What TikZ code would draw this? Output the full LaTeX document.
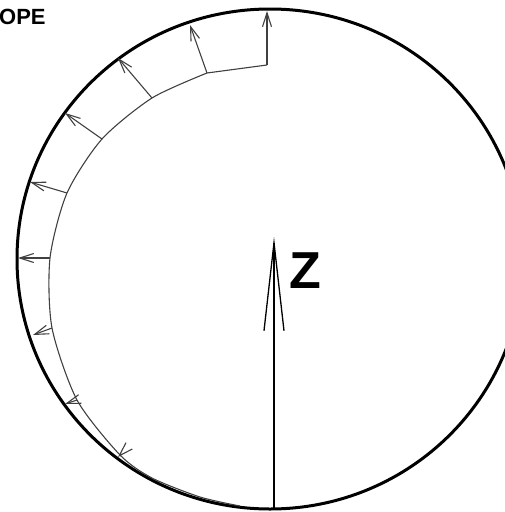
\documentclass[tikz,border=0pt]{standalone}
\usepackage{fontspec}
\setmainfont{Liberation Sans}
\usetikzlibrary{arrows.meta}
\begin{document}
\begin{tikzpicture}[x=1pt,y=-1pt,
  rim/.style={line width=3pt},
  prof/.style={line width=1.1pt, black!75, line join=round},
  vec/.style={line width=1.1pt, black!75, -{Straight Barb[length=14pt,width=9pt]}},
  zvec/.style={line width=1.3pt, black, -{Straight Barb[length=88pt,width=20pt,line width=1.3pt]}},
  lbl/.style={inner sep=0pt, font=\bfseries}]
\useasboundingbox (0,0) rectangle (504,512);
% outer rim
\draw[rim] (270,259) ellipse [x radius=253, y radius=250];
% profile base points
\coordinate (b1) at (267,65);
\coordinate (b2) at (207,73);
\coordinate (b3) at (152,98);
\coordinate (b4) at (102,139);
\coordinate (b5) at (67,193);
\coordinate (b6) at (50,258);
\coordinate (b7) at (52,328);
\coordinate (b8) at (77,400);
\coordinate (b9) at (120,455);
\coordinate (b10) at (152,478);
\coordinate (b11) at (200,497);
\coordinate (b12) at (240,506);
% tips on the rim
\coordinate (t1) at (267,11);
\coordinate (t2) at (190,25);
\coordinate (t3) at (118,58);
\coordinate (t4) at (65,113);
\coordinate (t5) at (30,182);
\coordinate (t6) at (18,258);
\coordinate (t7) at (33,335);
\coordinate (t8) at (65,404);
\coordinate (t9) at (118,457);
% profile
\draw[prof] (b1) -- (b2);
\draw[prof] plot[smooth, tension=0.45] coordinates {(b2) (b3) (b4) (b5) (b6) (b7) (b8) (b9) (b10) (b11) (b12)};
% vectors
\foreach \i in {1,...,9} \draw[vec] (b\i) -- (t\i);
% Z axis
\coordinate (zb) at (274,508);
\coordinate (zt) at (274,237);
\draw[zvec] (zb) -- (zt);
\node[lbl, font=\bfseries\fontsize{52}{52}\selectfont] (z) at (305.5,271) {Z};
\node[lbl, font=\bfseries\fontsize{22}{22}\selectfont, anchor=west] (ope) at (-1,17) {OPE};
\end{tikzpicture}
\end{document}
